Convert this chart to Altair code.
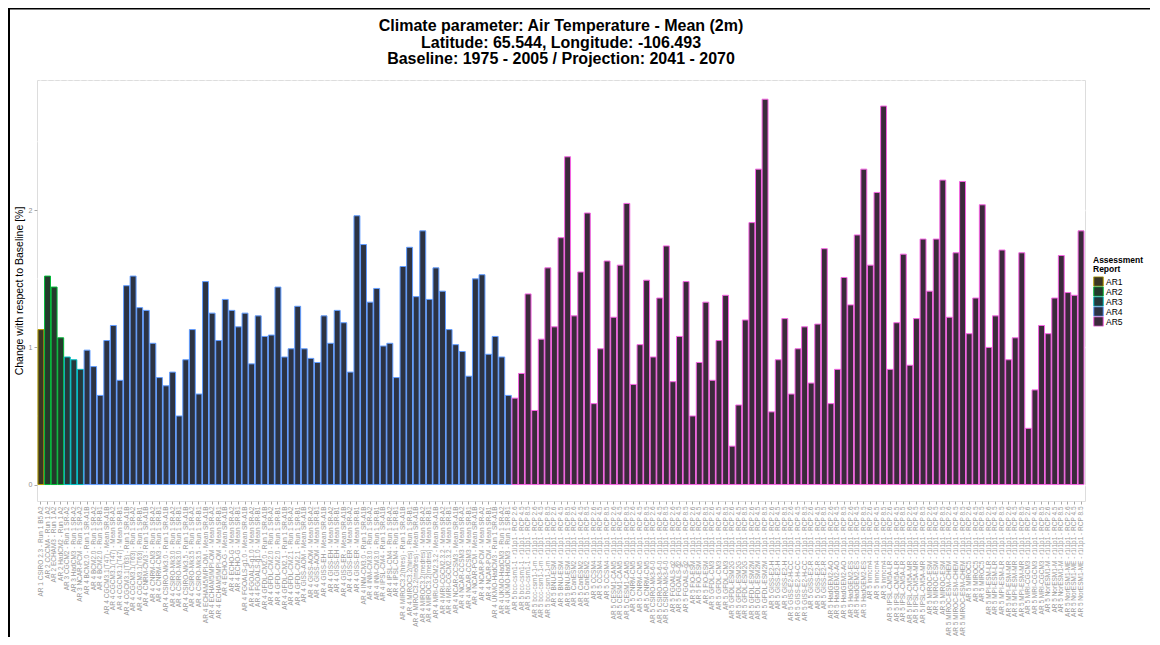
import altair as alt
import pandas as pd

# ---------------- data ----------------
title_lines = [
    "Climate parameter: Air Temperature - Mean (2m)",
    "Latitude: 65.544, Longitude: -106.493",
    "Baseline: 1975 - 2005 / Projection: 2041 - 2070",
]
y_title = "Change with respect to Baseline [%]"
legend_title = ["Assessment", "Report"]

reports = ["AR1", "AR2", "AR3", "AR4", "AR5"]
stroke_colors = ["#B79F00", "#00BA38", "#00BFC4", "#619CFF", "#F564E3"]
fill_colors = ["#3A3624", "#243A2C", "#24393B", "#2C3343", "#3B2A3B"]

ar1_labels = ["AR 1 CSIRO 2.3 - Run 1 B5 A2"]
ar1_values = [1.13]

ar2_labels = ["AR 2 CCCMA - Run 1 A2", "AR 2 ECHAM3 - Run 1 A2", "AR 2 HadCM2 - Run 1 A2"]
ar2_values = [1.52, 1.44, 1.07]

ar3_labels = ["AR 3 CGCM2 - Run 1 SR-A2", "AR 3 HadCM3 - Run 1 SR-A2", "AR 3 NCAR-PCM - Run 1 SR-A2"]
ar3_values = [0.93, 0.91, 0.84]

ar4_labels = [
    "AR 4 BCM2.0 - Run 1 SR-A1B", "AR 4 BCM2.0 - Run 1 SR-A2", "AR 4 BCM2.0 - Run 1 SR-B1",
    "AR 4 CGCM3.1(T47) - Mean SR-A1B", "AR 4 CGCM3.1(T47) - Mean SR-A2", "AR 4 CGCM3.1(T47) - Mean SR-B1",
    "AR 4 CGCM3.1(T63) - Run 1 SR-A1B", "AR 4 CGCM3.1(T63) - Run 1 SR-A2", "AR 4 CGCM3.1(T63) - Run 1 SR-B1",
    "AR 4 CNRM-CM3 - Run 1 SR-A1B", "AR 4 CNRM-CM3 - Run 1 SR-A2", "AR 4 CNRM-CM3 - Run 1 SR-B1",
    "AR 4 CSIRO-Mk3.0 - Run 1 SR-A1B", "AR 4 CSIRO-Mk3.0 - Run 1 SR-A2", "AR 4 CSIRO-Mk3.0 - Run 1 SR-B1",
    "AR 4 CSIRO-Mk3.5 - Run 1 SR-A1B", "AR 4 CSIRO-Mk3.5 - Run 1 SR-A2", "AR 4 CSIRO-Mk3.5 - Run 1 SR-B1",
    "AR 4 ECHAM5/MPI-OM - Mean SR-A1B", "AR 4 ECHAM5/MPI-OM - Mean SR-A2", "AR 4 ECHAM5/MPI-OM - Mean SR-B1",
    "AR 4 ECHO-G - Mean SR-A1B", "AR 4 ECHO-G - Mean SR-A2", "AR 4 ECHO-G - Mean SR-B1",
    "AR 4 FGOALS-g1.0 - Mean SR-A1B", "AR 4 FGOALS-g1.0 - Mean SR-A2", "AR 4 FGOALS-g1.0 - Mean SR-B1",
    "AR 4 GFDL-CM2.0 - Run 1 SR-A1B", "AR 4 GFDL-CM2.0 - Run 1 SR-A2", "AR 4 GFDL-CM2.0 - Run 1 SR-B1",
    "AR 4 GFDL-CM2.1 - Run 1 SR-A1B", "AR 4 GFDL-CM2.1 - Run 1 SR-A2", "AR 4 GFDL-CM2.1 - Run 1 SR-B1",
    "AR 4 GISS-AOM - Mean SR-A1B", "AR 4 GISS-AOM - Mean SR-A2", "AR 4 GISS-AOM - Mean SR-B1",
    "AR 4 GISS-EH - Mean SR-A1B", "AR 4 GISS-EH - Mean SR-A2", "AR 4 GISS-EH - Mean SR-B1",
    "AR 4 GISS-ER - Mean SR-A1B", "AR 4 GISS-ER - Mean SR-A2", "AR 4 GISS-ER - Mean SR-B1",
    "AR 4 INM-CM3.0 - Run 1 SR-A1B", "AR 4 INM-CM3.0 - Run 1 SR-A2", "AR 4 INM-CM3.0 - Run 1 SR-B1",
    "AR 4 IPSL-CM4 - Run 1 SR-A1B", "AR 4 IPSL-CM4 - Run 1 SR-A2", "AR 4 IPSL-CM4 - Run 1 SR-B1",
    "AR 4 MIROC3.2(hires) - Run 1 SR-A1B", "AR 4 MIROC3.2(hires) - Run 1 SR-B1",
    "AR 4 MIROC3.2(medres) - Mean SR-A1B", "AR 4 MIROC3.2(medres) - Mean SR-A2", "AR 4 MIROC3.2(medres) - Mean SR-B1",
    "AR 4 MRI-CGCM2.3.2 - Mean SR-A1B", "AR 4 MRI-CGCM2.3.2 - Mean SR-A2", "AR 4 MRI-CGCM2.3.2 - Mean SR-B1",
    "AR 4 NCAR-CCSM3 - Mean SR-A1B", "AR 4 NCAR-CCSM3 - Mean SR-A2", "AR 4 NCAR-CCSM3 - Mean SR-B1",
    "AR 4 NCAR-PCM - Mean SR-A1B", "AR 4 NCAR-PCM - Mean SR-A2", "AR 4 NCAR-PCM - Mean SR-B1",
    "AR 4 UKMO-HadCM3 - Run 1 SR-A1B", "AR 4 UKMO-HadCM3 - Run 1 SR-A2", "AR 4 UKMO-HadCM3 - Run 1 SR-B1",
]
ar4_values = [
    0.98, 0.86, 0.65, 1.05, 1.16, 0.76, 1.45, 1.52, 1.29, 1.27,
    1.03, 0.78, 0.72, 0.82, 0.50, 0.91, 1.13, 0.66, 1.48, 1.25,
    1.05, 1.35, 1.27, 1.15, 1.25, 0.88, 1.23, 1.08, 1.09, 1.44,
    0.93, 0.99, 1.30, 0.99, 0.92, 0.89, 1.23, 1.03, 1.27, 1.18,
    0.82, 1.96, 1.75, 1.33, 1.43, 1.01, 1.03, 0.78, 1.59, 1.73,
    1.37, 1.85, 1.35, 1.58, 1.41, 1.13, 1.02, 0.97, 0.79, 1.50,
    1.53, 0.95, 1.08, 0.93, 0.65,
]

ar5_models = [
    "bcc-csm1-1", "bcc-csm1-1-m", "BNU-ESM", "CanESM2", "CCSM4", "CESM1-CAM5",
    "CNRM-CM5", "CSIRO-Mk3-6-0", "FGOALS-g2", "FIO-ESM", "GFDL-CM3", "GFDL-ESM2G",
    "GFDL-ESM2M", "GISS-E2-H", "GISS-E2-H-CC", "GISS-E2-R", "HadGEM2-AO", "HadGEM2-ES",
    "inmcm4", "IPSL-CM5A-LR", "IPSL-CM5A-MR", "MIROC-ESM", "MIROC-ESM-CHEM", "MIROC5",
    "MPI-ESM-LR", "MPI-ESM-MR", "MRI-CGCM3", "NorESM1-M", "NorESM1-ME",
]
ar5_scenarios = ["RCP 2.6", "RCP 4.5", "RCP 8.5"]
ar5_labels = [f"AR 5 {m} - r1i1p1 - {s}" for m in ar5_models for s in ar5_scenarios]
ar5_values = [
    0.63, 0.81, 1.39, 0.54, 1.06, 1.58, 1.15, 1.80, 2.39, 1.23,
    1.55, 1.98, 0.59, 0.99, 1.63, 1.22, 1.60, 2.05, 0.73, 1.02,
    1.49, 0.93, 1.36, 1.74, 0.75, 1.08, 1.48, 0.50, 0.89, 1.33,
    0.76, 1.05, 1.38, 0.28, 0.58, 1.20, 1.91, 2.30, 2.81, 0.53,
    0.91, 1.21, 0.66, 0.99, 1.15, 0.74, 1.17, 1.72, 0.59, 0.84,
    1.51, 1.31, 1.82, 2.30, 1.60, 2.13, 2.76, 0.84, 1.18, 1.68,
    0.87, 1.21, 1.79, 1.41, 1.79, 2.22, 1.22, 1.69, 2.21, 1.10,
    1.36, 2.04, 1.00, 1.23, 1.71, 0.91, 1.07, 1.69, 0.41, 0.69,
    1.16, 1.10, 1.36, 1.67, 1.40, 1.38, 1.85,
]

minor_grid = [0.5, 1.5, 2.5]
major_ticks = [0, 1, 2]

# ---------------- table ----------------
groups = [
    ("AR1", ar1_labels, ar1_values),
    ("AR2", ar2_labels, ar2_values),
    ("AR3", ar3_labels, ar3_values),
    ("AR4", ar4_labels, ar4_values),
    ("AR5", ar5_labels, ar5_values),
]
rows = []
for rep, labs, vals in groups:
    for lab, v in zip(labs, vals):
        rows.append({"label": lab, "value": v, "report": rep})
df = pd.DataFrame(rows)
order = list(df["label"])

FONT = "Liberation Sans"
W, H = 1048, 421

legend = alt.Legend(
    title=legend_title, orient="none", legendX=1056, legendY=176,
    titleFontSize=8.5, titleFont=FONT, titleFontWeight="bold", titleColor="black",
    titleLineHeight=9, titlePadding=3,
    labelFontSize=8.5, labelFont=FONT, labelColor="black", labelOffset=2,
    symbolType="square", symbolSize=90, symbolStrokeWidth=1, rowPadding=0,
    clipHeight=10,
)

x_enc = alt.X(
    "label:N", sort=order, title=None,
    scale=alt.Scale(paddingInner=0.1, paddingOuter=0.15),
    axis=alt.Axis(
        labelAngle=270, labelFontSize=6.5, labelFont=FONT, labelColor="#999999",
        labelOverlap=False, labelPadding=2, labelLimit=200,
        tickColor="#a8a8a8", tickSize=3, domain=False,
        grid=True, gridColor="white", gridWidth=1.8,
    ),
)
y_scale = alt.Scale(domain=[-0.12, 2.95], nice=False, zero=False)

bars = alt.Chart(df).mark_bar(strokeWidth=1, fillOpacity=1).encode(
    x=x_enc,
    y=alt.Y(
        "value:Q", title=y_title, scale=y_scale,
        axis=alt.Axis(
            values=major_ticks, format="d", labelFontSize=7, labelFont=FONT,
            labelColor="#8c8c8c", tickColor="#a8a8a8", tickSize=3, domain=False,
            gridColor="white", gridWidth=1.3,
            titleFont=FONT, titleFontSize=10.5, titleFontWeight="normal",
            titleColor="black", titlePadding=4,
        ),
    ),
    y2=alt.datum(0),
    fill=alt.Fill("report:N", scale=alt.Scale(domain=reports, range=fill_colors), legend=legend),
    stroke=alt.Stroke("report:N", scale=alt.Scale(domain=reports, range=stroke_colors), legend=legend),
)

minor = alt.Chart(pd.DataFrame({"value": minor_grid})).mark_rule(
    color="white", strokeWidth=0.6
).encode(y=alt.Y("value:Q", scale=y_scale))

frame = pd.DataFrame({"k": [0]})
frame_left = alt.Chart(frame).mark_rule(color="black", strokeWidth=2).encode(
    x=alt.value(-28), y=alt.value(-72), y2=alt.value(560)
)
frame_top = alt.Chart(frame).mark_rule(color="black", strokeWidth=1.5).encode(
    x=alt.value(-29), x2=alt.value(1120), y=alt.value(-71.2)
)

chart = alt.layer(minor, bars, frame_left, frame_top).properties(
    width=W, height=H,
    title=alt.TitleParams(
        text=title_lines, font=FONT, fontSize=16, fontWeight="bold", color="black",
        anchor="middle", lineHeight=16.5, offset=-60,
    ),
    autosize=alt.AutoSizeParams(type="none"),
    padding={"left": 29, "top": 72, "right": 65, "bottom": 136},
).configure_view(fill="#E3E3E3", stroke=None).configure(background="white")

chart.save("out.html", embed_options={"renderer": "svg", "actions": False})
